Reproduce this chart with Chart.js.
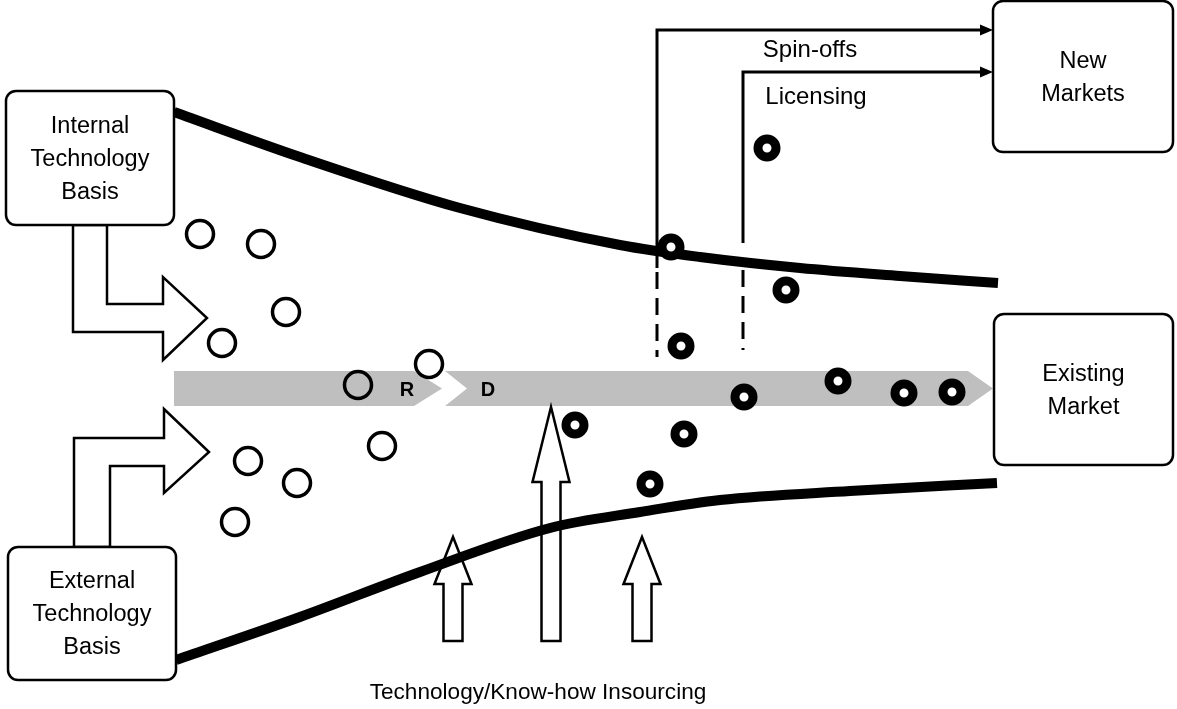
<!DOCTYPE html>
<html>
<head>
<meta charset="utf-8">
<script src="https://cdn.jsdelivr.net/npm/chart.js@4.4.1/dist/chart.umd.min.js"></script>
<style>
  html, body { margin: 0; padding: 0; background: #ffffff; }
  #wrap { width: 1177px; height: 709px; }
</style>
</head>
<body>
<div id="wrap"><canvas id="c" width="1177" height="709"></canvas></div>
<script>
// ---------- data (diagram coordinates, same units as the 1177 x 709 frame) ----------
const topCurveX = [174, 300, 460, 620, 700, 800, 900, 998];
const topCurveY = [112, 157, 208, 245, 257, 268, 276, 283];
const bottomCurveX = [176, 300, 420, 550, 640, 720, 850, 997];
const bottomCurveY = [660, 617, 572, 528, 512, 500, 491, 483];

const openIdeaX = [200, 261, 286, 222, 358, 429, 248, 297, 235, 382];
const openIdeaY = [234, 244, 312, 343, 385, 364, 461, 483, 522, 446];

const projectX = [767, 671, 786, 681, 744, 838, 904, 952, 575, 684, 650];
const projectY = [148, 247, 290, 346, 397, 381, 393, 392, 425, 434, 484];

const boxLabels = [
  ["Internal", "Technology", "Basis"],
  ["External", "Technology", "Basis"],
  ["New", "Markets"],
  ["Existing", "Market"]
];
const boxLeft = [6, 8, 993, 994];
const boxRight = [174, 176, 1173, 1173];
const boxTop = [91, 547, 1, 314];
const boxBottom = [225, 680, 152, 465];

const bandRX = [174, 414, 442, 414, 174];
const bandRY = [371, 371, 388.5, 406, 406];
const bandDX = [445, 968, 993, 968, 445, 467];
const bandDY = [371, 371, 388.5, 406, 406, 388.5];
const bandLabels = ["R", "D"];
const bandLabelX = [407, 488];
const bandLabelY = [390, 390];

const internalArrowX = [73, 73, 163, 163, 207, 163, 163, 107, 107];
const internalArrowY = [225, 332, 332, 360, 318, 277, 304, 304, 225];
const externalArrowX = [74, 74, 164, 164, 209, 164, 164, 110, 110];
const externalArrowY = [547, 438, 438, 409, 452, 493, 466, 466, 547];

const upArrowCenterX = [453, 551, 642];
const upArrowTipY = [537, 407, 537];
const upArrowHeadBaseY = [584, 482, 584];
const upArrowBottomY = [641, 641, 641];

const exitLabels = ["Spin-offs", "Licensing"];
const exitStartX = [657, 743];
const exitStartY = [268, 243];
const exitTurnY = [30, 72];
const exitEndX = [993, 993];
const exitLabelX = [810, 816];
const exitLabelY = [50, 97];
const exitDashTopY = [272, 270];
const exitDashBottomY = [357, 350];

const bottomCaption = "Technology/Know-how Insourcing";
const bottomCaptionX = 538;
const bottomCaptionY = 693;

// ---------- helpers ----------
const FONT = "'Liberation Sans', Arial, Helvetica, sans-serif";
function P(chart, x, y) {
  return [chart.scales.x.getPixelForValue(x), chart.scales.y.getPixelForValue(y)];
}
function polygon(chart, xs, ys, fill, stroke, lw) {
  const ctx = chart.ctx;
  ctx.save();
  ctx.beginPath();
  xs.forEach((x, i) => {
    const [a, b] = P(chart, x, ys[i]);
    if (i === 0) ctx.moveTo(a, b); else ctx.lineTo(a, b);
  });
  ctx.closePath();
  if (fill) { ctx.fillStyle = fill; ctx.fill(); }
  if (stroke) { ctx.strokeStyle = stroke; ctx.lineWidth = lw; ctx.lineJoin = 'miter'; ctx.stroke(); }
  ctx.restore();
}
function text(chart, s, x, y, size, bold) {
  const ctx = chart.ctx;
  const [a, b] = P(chart, x, y);
  ctx.save();
  ctx.fillStyle = '#000';
  ctx.font = (bold ? 'bold ' : '') + size + 'px ' + FONT;
  ctx.textAlign = 'center';
  ctx.textBaseline = 'middle';
  ctx.fillText(s, a, b);
  ctx.restore();
}

const diagramPlugin = {
  id: 'diagram',
  beforeDatasetsDraw(chart) {
    // grey R / D process band
    polygon(chart, bandRX, bandRY, '#bfbfbf', null, 0);
    polygon(chart, bandDX, bandDY, '#bfbfbf', null, 0);
    bandLabels.forEach((s, i) => text(chart, s, bandLabelX[i], bandLabelY[i], 20, true));
    // bent block arrows from the technology bases
    polygon(chart, internalArrowX, internalArrowY, '#ffffff', '#000', 2.5);
    polygon(chart, externalArrowX, externalArrowY, '#ffffff', '#000', 2.5);
    // insourcing up arrows
    upArrowCenterX.forEach((cx, i) => {
      const xs = [cx - 9.5, cx - 9.5, cx - 18.5, cx, cx + 18.5, cx + 9.5, cx + 9.5];
      const ys = [upArrowBottomY[i], upArrowHeadBaseY[i], upArrowHeadBaseY[i], upArrowTipY[i],
                  upArrowHeadBaseY[i], upArrowHeadBaseY[i], upArrowBottomY[i]];
      polygon(chart, xs, ys, '#ffffff', '#000', 2.5);
    });
  },
  afterDatasetsDraw(chart) {
    const ctx = chart.ctx;
    // exit paths: spin-offs and licensing
    exitLabels.forEach((lab, i) => {
      const [x0, y0] = P(chart, exitStartX[i], exitStartY[i]);
      const [x1, y1] = P(chart, exitStartX[i], exitTurnY[i]);
      const [x2, y2] = P(chart, exitEndX[i] - 13, exitTurnY[i]);
      const [xt, yt] = P(chart, exitEndX[i], exitTurnY[i]);
      ctx.save();
      ctx.strokeStyle = '#000';
      ctx.lineWidth = 3;
      ctx.beginPath();
      ctx.moveTo(x0, y0); ctx.lineTo(x1, y1); ctx.lineTo(x2, y2);
      ctx.stroke();
      ctx.beginPath();
      ctx.moveTo(xt, yt); ctx.lineTo(x2, yt - 5.5); ctx.lineTo(x2, yt + 5.5); ctx.closePath();
      ctx.fillStyle = '#000'; ctx.fill();
      // dashed continuation
      const [d0x, d0y] = P(chart, exitStartX[i], exitDashTopY[i]);
      const [d1x, d1y] = P(chart, exitStartX[i], exitDashBottomY[i]);
      ctx.setLineDash([17, 9]);
      ctx.beginPath(); ctx.moveTo(d0x, d0y); ctx.lineTo(d1x, d1y); ctx.stroke();
      ctx.restore();
      text(chart, lab, exitLabelX[i], exitLabelY[i], 24, false);
    });
    // boxes
    boxLabels.forEach((lines, i) => {
      const [l, t] = P(chart, boxLeft[i], boxTop[i]);
      const [r, b] = P(chart, boxRight[i], boxBottom[i]);
      ctx.save();
      ctx.beginPath();
      ctx.roundRect(l, t, r - l, b - t, 10);
      ctx.fillStyle = '#ffffff'; ctx.fill();
      ctx.strokeStyle = '#000'; ctx.lineWidth = 2.5; ctx.stroke();
      ctx.restore();
      const cx = (boxLeft[i] + boxRight[i]) / 2;
      const cy = (boxTop[i] + boxBottom[i]) / 2 + 1.5;
      const lh = 33;
      lines.forEach((s, k) => text(chart, s, cx, cy + (k - (lines.length - 1) / 2) * lh, 23.5, false));
    });
    text(chart, bottomCaption, bottomCaptionX, bottomCaptionY, 22.6, false);
  }
};

const toPts = (xs, ys) => xs.map((x, i) => ({ x: x, y: ys[i] }));

new Chart(document.getElementById('c'), {
  type: 'scatter',
  data: {
    datasets: [
      {
        label: 'Projects', data: toPts(projectX, projectY), order: 0,
        pointRadius: 9, pointBorderWidth: 9, pointBackgroundColor: '#ffffff',
        pointBorderColor: '#000', pointHoverRadius: 9, clip: false
      },
      {
        label: 'Ideas', data: toPts(openIdeaX, openIdeaY), order: 1,
        pointRadius: 13.5, pointBorderWidth: 3.5, pointBackgroundColor: 'rgba(0,0,0,0)',
        pointBorderColor: '#000', pointHoverRadius: 13.5, clip: false
      },
      {
        label: 'Upper boundary', data: toPts(topCurveX, topCurveY), order: 2,
        showLine: true, borderColor: '#000', borderWidth: 10, pointRadius: 0,
        cubicInterpolationMode: 'monotone', borderCapStyle: 'butt', clip: false
      },
      {
        label: 'Lower boundary', data: toPts(bottomCurveX, bottomCurveY), order: 3,
        showLine: true, borderColor: '#000', borderWidth: 10, pointRadius: 0,
        cubicInterpolationMode: 'monotone', borderCapStyle: 'butt', clip: false
      }
    ]
  },
  options: {
    responsive: false,
    animation: false,
    events: [],
    layout: { padding: 0, autoPadding: false },
    plugins: { legend: { display: false }, tooltip: { enabled: false } },
    scales: {
      x: { type: 'linear', min: 0, max: 1177, display: false },
      y: { type: 'linear', min: 0, max: 709, reverse: true, display: false }
    }
  },
  plugins: [diagramPlugin]
});
</script>
</body>
</html>
